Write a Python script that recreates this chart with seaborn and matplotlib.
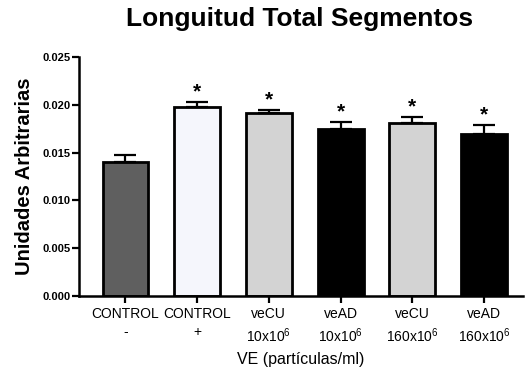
import matplotlib
matplotlib.use("Agg")
import matplotlib.pyplot as plt
import seaborn as sns
import pandas as pd

# --- Data ---
groups = ["CONTROL\n-", "CONTROL\n+", "veCU\n10x10$^6$", "veAD\n10x10$^6$",
          "veCU\n160x10$^6$", "veAD\n160x10$^6$"]
means = [0.01402, 0.01980, 0.01917, 0.01747, 0.01806, 0.01695]
sem = [0.00068, 0.00050, 0.00033, 0.00076, 0.00070, 0.00094]
signif = ["", "*", "*", "*", "*", "*"]
bar_colors = ["#5f5f5f", "#f5f6fc", "#d3d3d3", "#000000", "#d3d3d3", "#000000"]

sns.set_theme(style="ticks")
plt.rcParams["font.family"] = ["Liberation Sans", "DejaVu Sans"]
plt.rcParams["mathtext.default"] = "regular"
for key in ["text.color", "axes.labelcolor", "xtick.color", "ytick.color", "axes.edgecolor"]:
    plt.rcParams[key] = "black"

df = pd.DataFrame({"grupo": groups, "valor": means})

fig = plt.figure(figsize=(5.26, 3.67), dpi=100)
ax = fig.add_axes([0.150, 0.193, 0.845, 0.652])

sns.barplot(data=df, x="grupo", y="valor", hue="grupo", palette=bar_colors,
            width=0.64, edgecolor="black", linewidth=2, legend=False, ax=ax,
            saturation=1)

# upper error bars only
ax.errorbar(range(len(means)), means, yerr=[[0] * len(sem), sem], fmt="none",
            ecolor="black", elinewidth=1.6, capsize=8, capthick=1.6, zorder=1)

for i, (m, s, t) in enumerate(zip(means, sem, signif)):
    if t:
        ax.text(i, m + s + 0.00005, t, ha="center", va="bottom",
                fontsize=15, fontweight="bold")

ax.set_ylim(0, 0.025)
ax.set_xlim(-0.65, 5.55)
ax.set_yticks([0.000, 0.005, 0.010, 0.015, 0.020, 0.025])
ax.set_yticklabels([f"{v:.3f}" for v in ax.get_yticks()], fontweight="bold", fontsize=8)
ax.tick_params(axis="x", labelsize=10, width=1.6, length=5, pad=3)
ax.tick_params(axis="y", width=1.6, length=5, pad=1)
for lbl in ax.get_xticklabels():
    lbl.set_linespacing(1.3)
for side in ["left", "bottom"]:
    ax.spines[side].set_linewidth(1.8)
sns.despine(ax=ax)

ax.set_xlabel("VE (partículas/ml)", fontsize=11.5, labelpad=5)
ax.set_ylabel("Unidades Arbitrarias", fontsize=14.5, fontweight="bold", labelpad=6)
fig.suptitle("Longuitud Total Segmentos", fontsize=19, fontweight="bold",
             x=0.57, y=0.98)

fig.savefig("out.png", dpi=100)
